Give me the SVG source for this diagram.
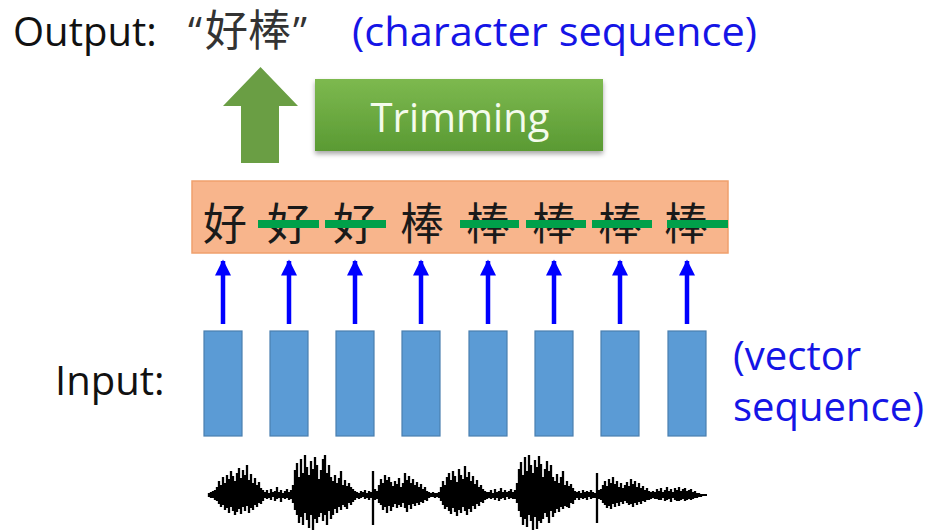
<svg xmlns="http://www.w3.org/2000/svg" width="935" height="530" viewBox="0 0 935 530">
<defs>
<style>
.lat{font-family:"Open Sans","Liberation Sans",sans-serif;font-size:40px}
.blk{fill:#111}
.blu{fill:#1515E6}
.cjk{font-family:"Noto Sans CJK SC","Noto Sans CJK TC",sans-serif;font-size:44px;fill:#1a1a1a;text-anchor:middle}
.strike{stroke:#00A04A;stroke-width:8}
.vec{fill:#5B9BD5;stroke:#4A7FB0;stroke-width:1.2}
.arr{stroke:#0000FF;stroke-width:4.5}
</style>
<marker id="ah" viewBox="0 0 10 10" refX="9" refY="5" markerWidth="3.6" markerHeight="3.6" orient="auto" markerUnits="strokeWidth">
<path d="M0,0 L10,5 L0,10 Z" fill="#0000FF"/>
</marker>
<linearGradient id="gg" x1="0" y1="0" x2="0" y2="1">
<stop offset="0" stop-color="#7DB94F"/>
<stop offset="1" stop-color="#5A9A33"/>
</linearGradient>
<filter id="sh" x="-10%" y="-20%" width="120%" height="150%">
<feDropShadow dx="0" dy="3" stdDeviation="2.5" flood-color="#000" flood-opacity="0.35"/>
</filter>
</defs>
<rect width="935" height="530" fill="#fff"/>

<g id="output-label">
<text class="lat blk" x="13" y="46">Output:</text>
<text y="46" font-family="Open Sans, Noto Sans CJK SC, sans-serif" font-size="40" fill="#333"><tspan x="188">“</tspan><tspan x="205" font-family="Noto Sans CJK SC, sans-serif" font-size="43">好棒</tspan><tspan x="293">”</tspan></text>
<text class="lat blu" x="352" y="46" textLength="405" lengthAdjust="spacingAndGlyphs">(character sequence)</text>
</g>

<g id="up-arrow">
<polygon points="260.5,67 298,106 279,106 279,163 241,163 241,106 223,106" fill="#6A9E44"/>
</g>

<g id="trimming">
<rect x="315" y="79" width="288" height="72" fill="url(#gg)" filter="url(#sh)"/>
<text class="lat" x="460" y="132" text-anchor="middle" fill="#F4FBEC">Trimming</text>
</g>

<g id="char-sequence">
<rect x="192" y="181" width="536" height="72" fill="#F8B58C" stroke="#F0A06C" stroke-width="1.5"/>
<text class="cjk" x="225" y="240">好</text>
<text class="cjk" x="289" y="240">好</text>
<text class="cjk" x="355" y="240">好</text>
<text class="cjk" x="422" y="240">棒</text>
<text class="cjk" x="488" y="240">棒</text>
<text class="cjk" x="554" y="240">棒</text>
<text class="cjk" x="620" y="240">棒</text>
<text class="cjk" x="686" y="240">棒</text>
<line class="strike" x1="258" y1="224" x2="319" y2="224"/>
<line class="strike" x1="325" y1="224" x2="386" y2="224"/>
<line class="strike" x1="460" y1="224" x2="519" y2="224"/>
<line class="strike" x1="526" y1="224" x2="586" y2="224"/>
<line class="strike" x1="592" y1="224" x2="652" y2="224"/>
<line class="strike" x1="667" y1="224" x2="728" y2="224"/>
</g>

<g id="connectors">
<line class="arr" x1="223" y1="324" x2="223" y2="261" marker-end="url(#ah)"/>
<line class="arr" x1="289" y1="324" x2="289" y2="261" marker-end="url(#ah)"/>
<line class="arr" x1="355" y1="324" x2="355" y2="261" marker-end="url(#ah)"/>
<line class="arr" x1="421" y1="324" x2="421" y2="261" marker-end="url(#ah)"/>
<line class="arr" x1="488" y1="324" x2="488" y2="261" marker-end="url(#ah)"/>
<line class="arr" x1="554" y1="324" x2="554" y2="261" marker-end="url(#ah)"/>
<line class="arr" x1="620" y1="324" x2="620" y2="261" marker-end="url(#ah)"/>
<line class="arr" x1="687" y1="324" x2="687" y2="261" marker-end="url(#ah)"/>
</g>

<g id="vectors">
<rect class="vec" x="204" y="331" width="38" height="105"/>
<rect class="vec" x="270" y="331" width="38" height="105"/>
<rect class="vec" x="336" y="331" width="38" height="105"/>
<rect class="vec" x="402" y="331" width="38" height="105"/>
<rect class="vec" x="469" y="331" width="38" height="105"/>
<rect class="vec" x="535" y="331" width="38" height="105"/>
<rect class="vec" x="601" y="331" width="38" height="105"/>
<rect class="vec" x="668" y="331" width="38" height="105"/>
</g>

<g id="input-label">
<text class="lat blk" x="55" y="395">Input:</text>
<text class="lat blu" x="733" y="370">(vector</text>
<text class="lat blu" x="733" y="421">sequence)</text>
</g>

<g id="waveform" stroke="#000" stroke-width="2.3" fill="none">
<line x1="209" y1="495" x2="707" y2="495" stroke-width="2.2"/>
<path d="M209 493V497M211 492V498M213 491V498M215 490V500M217 487V501M219 481V504M221 485V507M223 477V505M225 483V510M227 475V508M229 479V513M231 471V507M233 476V511M235 481V515M237 473V512M239 468V509M241 478V514M243 470V507M245 475V511M247 465V506M249 480V513M251 474V508M253 483V510M255 478V505M257 485V507M259 482V503M261 488V504M263 490V501M265 492V498M267 490V499M269 493V498M271 489V500M273 492V497M275 491V501M277 487V499M279 492V498M281 490V502M283 493V498M285 491V499M287 489V498M289 492V500M291 490V499M293 485V503M295 470V510M297 463V515M299 477V523M301 459V517M303 473V525M305 455V513M307 467V520M309 475V528M311 461V515M313 469V531M315 457V519M317 465V523M319 479V517M321 470V513M323 459V521M325 455V515M327 473V525M329 465V511M331 477V519M333 481V515M335 475V509M337 483V513M339 478V507M341 471V510M343 485V505M345 480V507M347 486V509M349 483V503M351 487V505M353 489V502M355 491V500M357 492V498M359 493V499M361 491V498M363 492V497M365 490V499M367 493V498M369 491V500M371 492V498M373 471V525M375 489V500M377 491V499M379 485V503M381 479V505M383 483V510M385 475V507M387 480V513M389 477V506M391 482V511M393 486V507M395 481V504M397 484V508M399 478V505M401 487V507M403 483V503M405 473V508M407 480V512M409 476V505M411 483V509M413 479V504M415 485V506M417 482V503M419 487V505M421 484V502M423 489V503M425 487V500M427 491V501M429 492V498M431 493V497M433 492V497M435 493V498M437 493V497M439 492V498M441 487V501M443 481V505M445 485V509M447 477V507M449 473V511M451 480V514M453 471V508M455 476V512M457 482V516M459 469V510M461 475V513M463 479V507M465 466V511M467 477V515M469 472V509M471 481V512M473 476V506M475 484V509M477 480V504M479 487V506M481 485V502M483 489V503M485 491V500M487 492V499M489 492V498M491 490V499M493 493V498M495 489V500M497 492V498M499 491V501M501 488V499M503 492V498M505 490V500M507 492V497M509 491V499M511 489V498M513 492V499M515 490V499M517 483V503M519 469V511M521 462V517M523 475V525M525 457V519M527 471V527M529 455V515M531 465V521M533 473V532M535 460V517M537 467V529M539 456V521M541 464V523M543 477V519M545 469V513M547 461V517M549 471V523M551 465V511M553 477V517M555 481V513M557 474V509M559 483V512M561 477V507M563 471V509M565 485V506M567 481V507M569 486V508M571 484V503M573 488V504M575 491V500M577 492V498M579 491V500M581 493V498M583 490V499M585 492V498M587 491V500M589 492V497M591 490V499M593 492V498M595 493V498M597 473V523M599 490V499M601 489V500M603 485V503M605 481V505M607 486V508M609 479V506M611 483V509M613 477V504M615 484V507M617 481V503M619 487V506M621 483V502M623 488V504M625 485V501M627 482V503M629 486V505M631 479V504M633 484V507M635 481V503M637 487V505M639 483V502M641 488V504M643 486V501M645 490V502M647 488V500M649 491V500M651 492V499M653 491V498M655 492V499M657 489V499M659 491V500M661 488V500M663 492V498M665 490V501M667 487V500M669 491V499M671 489V502M673 492V498M675 488V500M677 490V501M679 487V501M681 491V500M683 489V499M685 488V501M687 491V500M689 490V499M691 489V500M693 492V499M695 491V498M697 493V498M699 493V497M701 494V497M703 494V496M705 494V496"/>
</g>
</svg>
